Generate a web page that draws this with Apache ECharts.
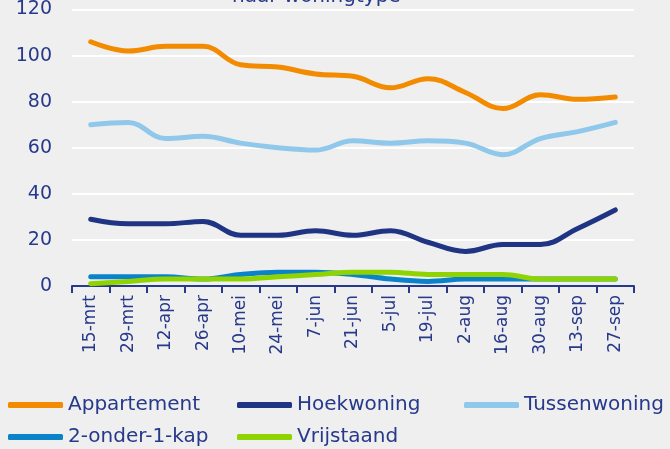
<!DOCTYPE html>
<html><head><meta charset="utf-8">
<script src="https://cdn.jsdelivr.net/npm/echarts@6/dist/echarts.min.js"></script>
<style>html,body{margin:0;padding:0;background:#efefef;}#c{width:670px;height:449px;}</style>
</head><body><div id="c"></div>
<script>
const categories = ['15-mrt','29-mrt','12-apr','26-apr','10-mei','24-mei','7-jun','21-jun','5-jul','19-jul','2-aug','16-aug','30-aug','13-sep','27-sep'];
const appartement = [106,102,104,104,96,95,92,91,86,90,84,77,83,81,82];
const hoekwoning = [29,27,27,28,22,22,24,22,24,19,15,18,18,25,33];
const tussenwoning = [70,71,64,65,62,60,59,63,62,63,62,57,64,67,71];
const tweeOnder1Kap = [4,4,4,3,5,6,6,5,3,2,3,3,3,3,3];
const vrijstaand = [1,2,3,3,3,4,5,6,6,5,5,5,3,3,3];
const yTicks = {min:0, max:120, interval:20};

const navy = '#26398a';
const font = 'DejaVu Sans';
const names = ['Appartement','Hoekwoning','Tussenwoning','2-onder-1-kap','Vrijstaand'];
const colors = ['#f28b00','#1f3584','#8fc8ea','#0a83c9','#8fd400'];
const datas = [appartement,hoekwoning,tussenwoning,tweeOnder1Kap,vrijstaand];
const legPos = [[8,395],[237,395],[464,395],[8,427],[237,427]];

const chart = echarts.init(document.getElementById('c'));
chart.setOption({
  backgroundColor:'#efefef',
  animation:false,
  graphic:[{type:'text', left:232, top:-13, z:0, style:{text:'naar woningtype', fontFamily:font, fontSize:20, fill:navy}}],
  legend: names.map((n,i)=>({
    data:[n], left:legPos[i][0], top:legPos[i][1], icon:'roundRect', itemWidth:55, itemHeight:6, itemGap:0,
    textStyle:{fontFamily:font, fontSize:20, color:navy, padding:[0,0,0,0]}, padding:0
  })),
  grid:{left:72, right:36, top:7, bottom:163, containLabel:false},
  xAxis:{type:'category', data:categories, boundaryGap:true,
    axisLine:{lineStyle:{color:navy, width:2}},
    axisTick:{show:true, length:7, lineStyle:{color:navy, width:2}},
    axisLabel:{rotate:90, fontFamily:font, fontSize:17, color:navy, margin:9, interval:0}},
  yAxis:{type:'value', min:yTicks.min, max:yTicks.max, interval:yTicks.interval,
    axisLine:{show:false}, axisTick:{show:false},
    splitLine:{lineStyle:{color:'#ffffff', width:2}},
    axisLabel:{fontFamily:font, fontSize:19, color:navy, margin:20}},
  series: names.map((n,i)=>({
    name:n, type:'line', data:datas[i], smooth:0.4, showSymbol:false, symbol:'none',
    lineStyle:{color:colors[i], width:5, cap:'round'}, itemStyle:{color:colors[i]}
  }))
});
</script></body></html>
